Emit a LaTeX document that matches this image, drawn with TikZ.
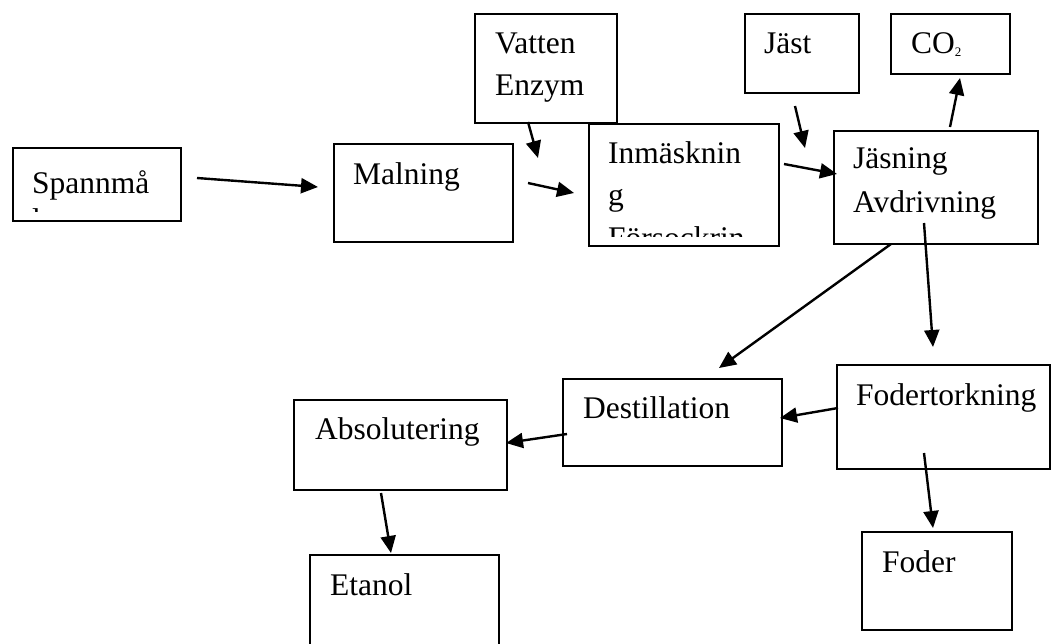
\documentclass[tikz,border=0pt]{standalone}
\usepackage{fontspec}
\setmainfont{Liberation Serif}
\usetikzlibrary{arrows.meta}
\tikzset{
  box/.style={draw, line width=1.9pt, inner sep=0pt, anchor=north west},
  lbl/.style={anchor=base west, inner sep=0pt, font=\fontsize{31.5}{36}\selectfont},
  arr/.style={line width=2.4pt, -{Triangle[length=17pt,width=15pt]}}
}
\begin{document}
\begin{tikzpicture}[x=1pt,y=-1pt]
\clip (0,0) rectangle (1051,643);
\fill[white] (0,0) rectangle (1051,643);
% boxes
\node[box, minimum width=168pt, minimum height=73pt] (spann) at (12,147) {};
\node[box, minimum width=179pt, minimum height=98pt] (maln) at (333,143) {};
\node[box, minimum width=142pt, minimum height=109pt] (vatten) at (474,13) {};
\node[box, minimum width=190pt, minimum height=122pt] (inmask) at (588,123) {};
\node[box, minimum width=114pt, minimum height=79pt] (jast) at (744,13) {};
\node[box, minimum width=119pt, minimum height=60pt] (co2) at (890,13) {};
\node[box, minimum width=204pt, minimum height=113pt] (jasn) at (833,130) {};
\node[box, minimum width=219pt, minimum height=87pt] (dest) at (562,378) {};
\node[box, minimum width=213pt, minimum height=104pt] (foderk) at (836,364) {};
\node[box, minimum width=213pt, minimum height=90pt] (abs) at (293,399) {};
\node[box, minimum width=189pt, minimum height=110pt] (etan) at (309,554) {};
\node[box, minimum width=150pt, minimum height=98pt] (foder) at (861,531) {};
% texts
\node[lbl] (t-spann) at (32,193) {Spannmå};
\begin{scope}
\clip (14,149) rectangle (178,211);
\node[lbl] (t-spann2) at (32,230) {l};
\end{scope}
\node[lbl] (t-maln) at (353,184) {Malning};
\node[lbl] (t-vatten) at (495,53) {Vatten};
\node[lbl] (t-enzym) at (495,95) {Enzym};
\node[lbl] (t-inm1) at (608,163) {Inmäsknin};
\node[lbl] (t-inm2) at (608,205) {g};
\begin{scope}
\clip (590,125) rectangle (776,236);
\node[lbl] (t-inm3) at (608,248) {Försockrin};
\end{scope}
\node[lbl] (t-jast) at (764,53) {Jäst};
\node[lbl] (t-co2) at (911,53) {CO\raisebox{-3pt}{\fontsize{13}{13}\selectfont 2}};
\node[lbl] (t-jasn) at (853,168) {Jäsning};
\node[lbl] (t-avdr) at (853,212) {Avdrivning};
\node[lbl] (t-dest) at (583,418) {Destillation};
\node[lbl] (t-foderk) at (856,405) {Fodertorkning};
\node[lbl] (t-abs) at (315,439) {Absolutering};
\node[lbl] (t-etan) at (330,595) {Etanol};
\node[lbl] (t-foder) at (882,572) {Foder};
% arrow end points
\coordinate (a1s) at (197,178); \coordinate (a1e) at (318,187);
\coordinate (a2s) at (528,183); \coordinate (a2e) at (574,193);
\coordinate (a3s) at (528,122); \coordinate (a3e) at (538,158);
\coordinate (a4s) at (795,106); \coordinate (a4e) at (805,148);
\coordinate (a5s) at (784,164); \coordinate (a5e) at (837,174);
\coordinate (a6s) at (950,127); \coordinate (a6e) at (960,78);
\coordinate (a7s) at (891,244); \coordinate (a7e) at (719,368);
\coordinate (a8s) at (924,223); \coordinate (a8e) at (933,347);
\coordinate (a9s) at (838,408); \coordinate (a9e) at (780,418);
\coordinate (a10s) at (924,453); \coordinate (a10e) at (933,528);
\coordinate (a11s) at (567,434); \coordinate (a11e) at (506,443);
\coordinate (a12s) at (381,493); \coordinate (a12e) at (391,553);
% arrows
\draw[arr] (a1s) -- (a1e);
\draw[arr] (a2s) -- (a2e);
\draw[arr] (a3s) -- (a3e);
\draw[arr] (a4s) -- (a4e);
\draw[arr] (a5s) -- (a5e);
\draw[arr] (a6s) -- (a6e);
\draw[arr] (a7s) -- (a7e);
\draw[arr] (a8s) -- (a8e);
\draw[arr] (a9s) -- (a9e);
\draw[arr] (a10s) -- (a10e);
\draw[arr] (a11s) -- (a11e);
\draw[arr] (a12s) -- (a12e);
\end{tikzpicture}
\end{document}
